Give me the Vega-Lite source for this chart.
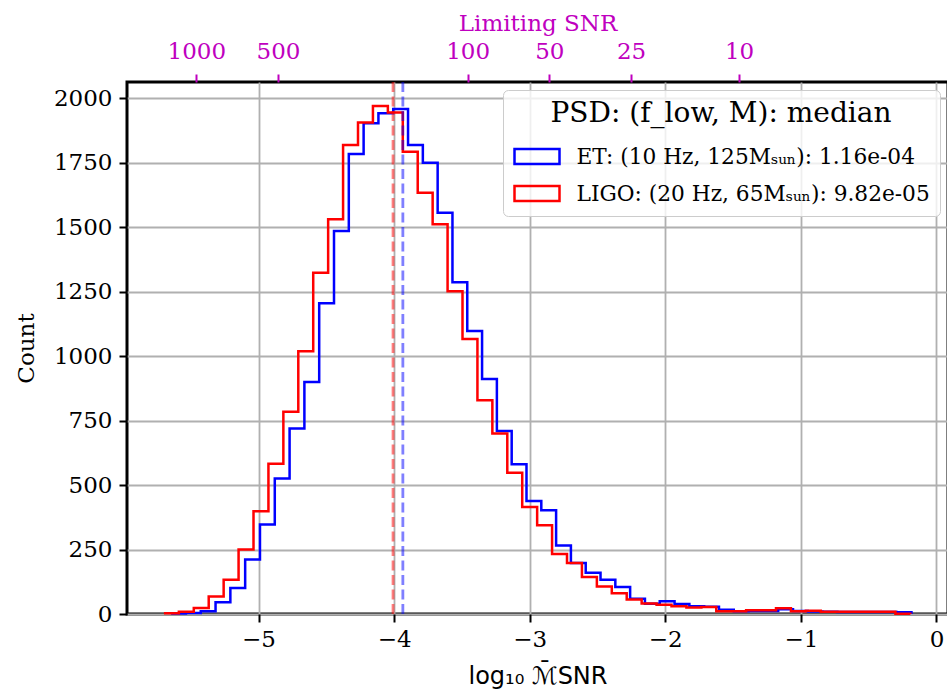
{
  "$schema": "https://vega.github.io/schema/vega-lite/v6.json",
  "width": 821,
  "height": 532,
  "autosize": "none",
  "padding": {"left": 127, "top": 82, "right": 0, "bottom": 78},
  "background": "white",
  "config": {
    "view": {"stroke": "black", "strokeWidth": 3},
    "font": "DejaVu Serif",
    "axis": {
      "labelFont": "DejaVu Serif",
      "labelFontSize": 23,
      "labelColor": "black",
      "titleFont": "DejaVu Serif",
      "titleFontSize": 23,
      "titleFontWeight": "normal",
      "titleColor": "black",
      "tickColor": "black",
      "tickWidth": 2,
      "tickSize": 8,
      "domain": false,
      "gridColor": "#b0b0b0",
      "gridWidth": 1.8,
      "gridOpacity": 1
    },
    "legend": {
      "orient": "top-right",
      "offset": 8,
      "fillColor": "rgba(255,255,255,0.8)",
      "strokeColor": "#cccccc",
      "cornerRadius": 5,
      "padding": 10,
      "titleFont": "DejaVu Serif",
      "titleFontSize": 28,
      "titleFontWeight": "normal",
      "titleColor": "black",
      "titleAnchor": "middle",
      "titleLimit": 600,
      "titlePadding": 12,
      "labelFont": "DejaVu Serif",
      "labelFontSize": 21.7,
      "labelColor": "black",
      "labelLimit": 600,
      "labelOffset": 23,
      "symbolOffset": 7.5,
      "symbolType": "M-1.5,-0.5H1.5V0.5H-1.5Z",
      "symbolSize": 900,
      "symbolStrokeWidth": 2.5,
      "symbolFillColor": "transparent",
      "rowPadding": 8
    }
  },
  "resolve": {"scale": {"x": "independent"}, "axis": {"x": "independent"}},
  "layer": [
    {
      "layer": [
        {
          "data": {
            "values": [
              {"series": "ET: (10 Hz, 125Mₛᵤₙ): 1.16e-04", "x": -5.6445, "count": 2},
              {"series": "ET: (10 Hz, 125Mₛᵤₙ): 1.16e-04", "x": -5.5353, "count": 4},
              {"series": "ET: (10 Hz, 125Mₛᵤₙ): 1.16e-04", "x": -5.4261, "count": 11},
              {"series": "ET: (10 Hz, 125Mₛᵤₙ): 1.16e-04", "x": -5.3169, "count": 46},
              {"series": "ET: (10 Hz, 125Mₛᵤₙ): 1.16e-04", "x": -5.2077, "count": 101},
              {"series": "ET: (10 Hz, 125Mₛᵤₙ): 1.16e-04", "x": -5.0985, "count": 211},
              {"series": "ET: (10 Hz, 125Mₛᵤₙ): 1.16e-04", "x": -4.9893, "count": 347},
              {"series": "ET: (10 Hz, 125Mₛᵤₙ): 1.16e-04", "x": -4.8801, "count": 525},
              {"series": "ET: (10 Hz, 125Mₛᵤₙ): 1.16e-04", "x": -4.7709, "count": 719},
              {"series": "ET: (10 Hz, 125Mₛᵤₙ): 1.16e-04", "x": -4.6617, "count": 900},
              {"series": "ET: (10 Hz, 125Mₛᵤₙ): 1.16e-04", "x": -4.5525, "count": 1205},
              {"series": "ET: (10 Hz, 125Mₛᵤₙ): 1.16e-04", "x": -4.4433, "count": 1485},
              {"series": "ET: (10 Hz, 125Mₛᵤₙ): 1.16e-04", "x": -4.3341, "count": 1784},
              {"series": "ET: (10 Hz, 125Mₛᵤₙ): 1.16e-04", "x": -4.2249, "count": 1903},
              {"series": "ET: (10 Hz, 125Mₛᵤₙ): 1.16e-04", "x": -4.1157, "count": 1942},
              {"series": "ET: (10 Hz, 125Mₛᵤₙ): 1.16e-04", "x": -4.0065, "count": 1958},
              {"series": "ET: (10 Hz, 125Mₛᵤₙ): 1.16e-04", "x": -3.8973, "count": 1819},
              {"series": "ET: (10 Hz, 125Mₛᵤₙ): 1.16e-04", "x": -3.7881, "count": 1750},
              {"series": "ET: (10 Hz, 125Mₛᵤₙ): 1.16e-04", "x": -3.6789, "count": 1556},
              {"series": "ET: (10 Hz, 125Mₛᵤₙ): 1.16e-04", "x": -3.5697, "count": 1286},
              {"series": "ET: (10 Hz, 125Mₛᵤₙ): 1.16e-04", "x": -3.4605, "count": 1097},
              {"series": "ET: (10 Hz, 125Mₛᵤₙ): 1.16e-04", "x": -3.3513, "count": 911},
              {"series": "ET: (10 Hz, 125Mₛᵤₙ): 1.16e-04", "x": -3.2421, "count": 710},
              {"series": "ET: (10 Hz, 125Mₛᵤₙ): 1.16e-04", "x": -3.1329, "count": 581},
              {"series": "ET: (10 Hz, 125Mₛᵤₙ): 1.16e-04", "x": -3.0237, "count": 438},
              {"series": "ET: (10 Hz, 125Mₛᵤₙ): 1.16e-04", "x": -2.9145, "count": 402},
              {"series": "ET: (10 Hz, 125Mₛᵤₙ): 1.16e-04", "x": -2.8053, "count": 266},
              {"series": "ET: (10 Hz, 125Mₛᵤₙ): 1.16e-04", "x": -2.6961, "count": 198},
              {"series": "ET: (10 Hz, 125Mₛᵤₙ): 1.16e-04", "x": -2.5869, "count": 160},
              {"series": "ET: (10 Hz, 125Mₛᵤₙ): 1.16e-04", "x": -2.4777, "count": 133},
              {"series": "ET: (10 Hz, 125Mₛᵤₙ): 1.16e-04", "x": -2.3685, "count": 105},
              {"series": "ET: (10 Hz, 125Mₛᵤₙ): 1.16e-04", "x": -2.2593, "count": 59},
              {"series": "ET: (10 Hz, 125Mₛᵤₙ): 1.16e-04", "x": -2.1501, "count": 40},
              {"series": "ET: (10 Hz, 125Mₛᵤₙ): 1.16e-04", "x": -2.0409, "count": 49},
              {"series": "ET: (10 Hz, 125Mₛᵤₙ): 1.16e-04", "x": -1.9317, "count": 39},
              {"series": "ET: (10 Hz, 125Mₛᵤₙ): 1.16e-04", "x": -1.8225, "count": 30},
              {"series": "ET: (10 Hz, 125Mₛᵤₙ): 1.16e-04", "x": -1.7133, "count": 28},
              {"series": "ET: (10 Hz, 125Mₛᵤₙ): 1.16e-04", "x": -1.6041, "count": 16},
              {"series": "ET: (10 Hz, 125Mₛᵤₙ): 1.16e-04", "x": -1.4949, "count": 11},
              {"series": "ET: (10 Hz, 125Mₛᵤₙ): 1.16e-04", "x": -1.3857, "count": 12},
              {"series": "ET: (10 Hz, 125Mₛᵤₙ): 1.16e-04", "x": -1.2765, "count": 12},
              {"series": "ET: (10 Hz, 125Mₛᵤₙ): 1.16e-04", "x": -1.1673, "count": 18},
              {"series": "ET: (10 Hz, 125Mₛᵤₙ): 1.16e-04", "x": -1.0581, "count": 12},
              {"series": "ET: (10 Hz, 125Mₛᵤₙ): 1.16e-04", "x": -0.9489, "count": 10},
              {"series": "ET: (10 Hz, 125Mₛᵤₙ): 1.16e-04", "x": -0.8397, "count": 9},
              {"series": "ET: (10 Hz, 125Mₛᵤₙ): 1.16e-04", "x": -0.7305, "count": 8},
              {"series": "ET: (10 Hz, 125Mₛᵤₙ): 1.16e-04", "x": -0.6213, "count": 8},
              {"series": "ET: (10 Hz, 125Mₛᵤₙ): 1.16e-04", "x": -0.5121, "count": 8},
              {"series": "ET: (10 Hz, 125Mₛᵤₙ): 1.16e-04", "x": -0.4029, "count": 8},
              {"series": "ET: (10 Hz, 125Mₛᵤₙ): 1.16e-04", "x": -0.2937, "count": 7},
              {"series": "ET: (10 Hz, 125Mₛᵤₙ): 1.16e-04", "x": -0.1845, "count": 0},
              {"series": "LIGO: (20 Hz, 65Mₛᵤₙ): 9.82e-05", "x": -5.6976, "count": 3},
              {"series": "LIGO: (20 Hz, 65Mₛᵤₙ): 9.82e-05", "x": -5.5875, "count": 9},
              {"series": "LIGO: (20 Hz, 65Mₛᵤₙ): 9.82e-05", "x": -5.4774, "count": 23},
              {"series": "LIGO: (20 Hz, 65Mₛᵤₙ): 9.82e-05", "x": -5.3673, "count": 68},
              {"series": "LIGO: (20 Hz, 65Mₛᵤₙ): 9.82e-05", "x": -5.2572, "count": 133},
              {"series": "LIGO: (20 Hz, 65Mₛᵤₙ): 9.82e-05", "x": -5.1471, "count": 250},
              {"series": "LIGO: (20 Hz, 65Mₛᵤₙ): 9.82e-05", "x": -5.0370, "count": 398},
              {"series": "LIGO: (20 Hz, 65Mₛᵤₙ): 9.82e-05", "x": -4.9269, "count": 583},
              {"series": "LIGO: (20 Hz, 65Mₛᵤₙ): 9.82e-05", "x": -4.8168, "count": 784},
              {"series": "LIGO: (20 Hz, 65Mₛᵤₙ): 9.82e-05", "x": -4.7067, "count": 1019},
              {"series": "LIGO: (20 Hz, 65Mₛᵤₙ): 9.82e-05", "x": -4.5966, "count": 1323},
              {"series": "LIGO: (20 Hz, 65Mₛᵤₙ): 9.82e-05", "x": -4.4865, "count": 1531},
              {"series": "LIGO: (20 Hz, 65Mₛᵤₙ): 9.82e-05", "x": -4.3764, "count": 1819},
              {"series": "LIGO: (20 Hz, 65Mₛᵤₙ): 9.82e-05", "x": -4.2663, "count": 1906},
              {"series": "LIGO: (20 Hz, 65Mₛᵤₙ): 9.82e-05", "x": -4.1562, "count": 1970},
              {"series": "LIGO: (20 Hz, 65Mₛᵤₙ): 9.82e-05", "x": -4.0461, "count": 1945},
              {"series": "LIGO: (20 Hz, 65Mₛᵤₙ): 9.82e-05", "x": -3.9360, "count": 1793},
              {"series": "LIGO: (20 Hz, 65Mₛᵤₙ): 9.82e-05", "x": -3.8259, "count": 1634},
              {"series": "LIGO: (20 Hz, 65Mₛᵤₙ): 9.82e-05", "x": -3.7158, "count": 1511},
              {"series": "LIGO: (20 Hz, 65Mₛᵤₙ): 9.82e-05", "x": -3.6057, "count": 1252},
              {"series": "LIGO: (20 Hz, 65Mₛᵤₙ): 9.82e-05", "x": -3.4956, "count": 1066},
              {"series": "LIGO: (20 Hz, 65Mₛᵤₙ): 9.82e-05", "x": -3.3855, "count": 829},
              {"series": "LIGO: (20 Hz, 65Mₛᵤₙ): 9.82e-05", "x": -3.2754, "count": 700},
              {"series": "LIGO: (20 Hz, 65Mₛᵤₙ): 9.82e-05", "x": -3.1653, "count": 548},
              {"series": "LIGO: (20 Hz, 65Mₛᵤₙ): 9.82e-05", "x": -3.0552, "count": 415},
              {"series": "LIGO: (20 Hz, 65Mₛᵤₙ): 9.82e-05", "x": -2.9451, "count": 344},
              {"series": "LIGO: (20 Hz, 65Mₛᵤₙ): 9.82e-05", "x": -2.8350, "count": 233},
              {"series": "LIGO: (20 Hz, 65Mₛᵤₙ): 9.82e-05", "x": -2.7249, "count": 198},
              {"series": "LIGO: (20 Hz, 65Mₛᵤₙ): 9.82e-05", "x": -2.6148, "count": 143},
              {"series": "LIGO: (20 Hz, 65Mₛᵤₙ): 9.82e-05", "x": -2.5047, "count": 107},
              {"series": "LIGO: (20 Hz, 65Mₛᵤₙ): 9.82e-05", "x": -2.3946, "count": 80},
              {"series": "LIGO: (20 Hz, 65Mₛᵤₙ): 9.82e-05", "x": -2.2845, "count": 56},
              {"series": "LIGO: (20 Hz, 65Mₛᵤₙ): 9.82e-05", "x": -2.1744, "count": 41},
              {"series": "LIGO: (20 Hz, 65Mₛᵤₙ): 9.82e-05", "x": -2.0643, "count": 36},
              {"series": "LIGO: (20 Hz, 65Mₛᵤₙ): 9.82e-05", "x": -1.9542, "count": 30},
              {"series": "LIGO: (20 Hz, 65Mₛᵤₙ): 9.82e-05", "x": -1.8441, "count": 25},
              {"series": "LIGO: (20 Hz, 65Mₛᵤₙ): 9.82e-05", "x": -1.7340, "count": 27},
              {"series": "LIGO: (20 Hz, 65Mₛᵤₙ): 9.82e-05", "x": -1.6239, "count": 11},
              {"series": "LIGO: (20 Hz, 65Mₛᵤₙ): 9.82e-05", "x": -1.5138, "count": 11},
              {"series": "LIGO: (20 Hz, 65Mₛᵤₙ): 9.82e-05", "x": -1.4037, "count": 15},
              {"series": "LIGO: (20 Hz, 65Mₛᵤₙ): 9.82e-05", "x": -1.2936, "count": 15},
              {"series": "LIGO: (20 Hz, 65Mₛᵤₙ): 9.82e-05", "x": -1.1835, "count": 22},
              {"series": "LIGO: (20 Hz, 65Mₛᵤₙ): 9.82e-05", "x": -1.0734, "count": 11},
              {"series": "LIGO: (20 Hz, 65Mₛᵤₙ): 9.82e-05", "x": -0.9633, "count": 13},
              {"series": "LIGO: (20 Hz, 65Mₛᵤₙ): 9.82e-05", "x": -0.8532, "count": 9},
              {"series": "LIGO: (20 Hz, 65Mₛᵤₙ): 9.82e-05", "x": -0.7431, "count": 9},
              {"series": "LIGO: (20 Hz, 65Mₛᵤₙ): 9.82e-05", "x": -0.6330, "count": 9},
              {"series": "LIGO: (20 Hz, 65Mₛᵤₙ): 9.82e-05", "x": -0.5229, "count": 9},
              {"series": "LIGO: (20 Hz, 65Mₛᵤₙ): 9.82e-05", "x": -0.4128, "count": 9},
              {"series": "LIGO: (20 Hz, 65Mₛᵤₙ): 9.82e-05", "x": -0.3027, "count": 1},
              {"series": "LIGO: (20 Hz, 65Mₛᵤₙ): 9.82e-05", "x": -0.1926, "count": 0}
            ]
          },
          "mark": {"type": "line", "interpolate": "step-after", "strokeWidth": 2.5},
          "encoding": {
            "x": {
              "field": "x",
              "type": "quantitative",
              "scale": {"domain": [-5.97, 0.085], "nice": false, "zero": false},
              "axis": {
                "orient": "bottom",
                "values": [-5, -4, -3, -2, -1, 0],
                "format": "d",
                "labelPadding": 6,
                "titlePadding": 13,
                "title": "log₁₀ ℳ̄SNR",
                "titleFont": "DejaVu Sans",
                "titleFontSize": 24,
                "grid": true
              }
            },
            "y": {
              "field": "count",
              "type": "quantitative",
              "scale": {"domain": [0, 2063], "nice": false},
              "axis": {
                "values": [0, 250, 500, 750, 1000, 1250, 1500, 1750, 2000],
                "format": "d",
                "labelPadding": 7,
                "titlePadding": 15,
                "title": "Count",
                "grid": true
              }
            },
            "stroke": {
              "field": "series",
              "type": "nominal",
              "scale": {
                "domain": ["ET: (10 Hz, 125Mₛᵤₙ): 1.16e-04", "LIGO: (20 Hz, 65Mₛᵤₙ): 9.82e-05"],
                "range": ["#0000ff", "#ff0000"]
              },
              "legend": {"title": "PSD: (f_low, M): median"}
            }
          }
        },
        {
          "data": {
            "values": [
              {"series": "ET", "median": -3.9355},
              {"series": "LIGO", "median": -4.0079}
            ]
          },
          "mark": {"type": "rule", "strokeWidth": 2.8, "strokeDash": [10, 4.5], "opacity": 0.5},
          "encoding": {
            "x": {"field": "median", "type": "quantitative"},
            "color": {
              "field": "series",
              "type": "nominal",
              "scale": {"domain": ["ET", "LIGO"], "range": ["#0000ff", "#ff0000"]},
              "legend": null
            }
          }
        }
      ]
    },
    {
      "data": {
        "values": [
          {"snr": 1000}, {"snr": 500}, {"snr": 100}, {"snr": 50}, {"snr": 25}, {"snr": 10}
        ]
      },
      "mark": {"type": "point", "opacity": 0},
      "encoding": {
        "x": {
          "field": "snr",
          "type": "quantitative",
          "scale": {"type": "log", "domain": [1.699, 1800], "reverse": true, "nice": false},
          "axis": {
            "orient": "top",
            "values": [1000, 500, 100, 50, 25, 10],
            "format": "d",
            "grid": false,
            "title": "Limiting SNR",
            "titleColor": "#bf00bf",
            "labelColor": "#bf00bf",
            "tickColor": "#bf00bf",
            "labelPadding": 11,
            "titlePadding": 5
          }
        }
      }
    }
  ]
}
